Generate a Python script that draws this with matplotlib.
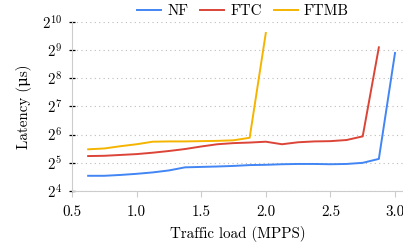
import matplotlib
matplotlib.use("Agg")
import matplotlib.pyplot as plt

# Traffic load (MPPS)
load_nf = [0.625, 0.75, 0.875, 1.0, 1.125, 1.25, 1.375, 1.5, 1.625, 1.75,
           1.875, 2.0, 2.125, 2.25, 2.375, 2.5, 2.625, 2.75, 2.875, 3.0]
load_ftc = load_nf[:-1]
load_ftmb = load_nf[:12]

# Latency, log2(us)
log_nf = [4.54, 4.54, 4.57, 4.61, 4.66, 4.73, 4.84, 4.855, 4.87, 4.89,
          4.92, 4.93, 4.95, 4.96, 4.96, 4.95, 4.96, 5.0, 5.14, 8.9]
log_ftc = [5.24, 5.25, 5.28, 5.31, 5.36, 5.42, 5.49, 5.58, 5.66, 5.70,
           5.72, 5.75, 5.66, 5.73, 5.76, 5.77, 5.81, 5.94, 9.1]
log_ftmb = [5.48, 5.51, 5.59, 5.66, 5.75, 5.76, 5.76, 5.77, 5.78, 5.80,
            5.89, 9.61]

y_exponents = [4, 5, 6, 7, 8, 9, 10]
x_ticks = [0.5, 1.0, 1.5, 2.0, 2.5, 3.0]

plt.rcParams['font.family'] = ['cmr10', 'DejaVu Serif']
plt.rcParams['mathtext.fontset'] = 'cm'
plt.rcParams['axes.formatter.use_mathtext'] = True
plt.rcParams['font.size'] = 10.8

fig = plt.figure(figsize=(4.03, 2.5), dpi=100)
ax = fig.add_axes([72 / 403, 59 / 250, 331 / 403, 169 / 250])

series = [
    ("NF", load_nf, log_nf, "#4285f4"),
    ("FTC", load_ftc, log_ftc, "#db4437"),
    ("FTMB", load_ftmb, log_ftmb, "#f4b400"),
]
for name, xs, ls, color in series:
    ax.plot(xs, [2 ** v for v in ls], color=color, lw=1.4, label=name)

ax.set_yscale('log', base=2)
ax.set_ylim(2 ** 4, 2 ** 10)
ax.set_xlim(0.5, 0.5 + 331 / 129.2)
ax.set_yticks([2 ** e for e in y_exponents])
ax.set_yticklabels([rf"$2^{{{e}}}$" for e in y_exponents])
ax.minorticks_off()
ax.set_xticks(x_ticks)
ax.set_xticklabels([f"{t:.1f}" for t in x_ticks])

ax.grid(axis='y', linestyle=(0, (1, 3)), color='#bbbbbb', lw=0.8)
for side in ['top', 'right']:
    ax.spines[side].set_visible(False)
for side in ['left', 'bottom']:
    ax.spines[side].set_color('#cccccc')
ax.tick_params(axis='y', length=4, width=0.9, color='black', direction='inout', pad=5)
ax.tick_params(axis='x', length=4, width=0.8, color='#cccccc', pad=6)

ax.set_xlabel("Traffic load (MPPS)", labelpad=5)
ax.set_ylabel("Latency (μs)", labelpad=7)

fig.legend(loc='upper center', bbox_to_anchor=(243 / 403, 1.035), ncol=3,
           frameon=False, handlelength=1.6, columnspacing=0.8, handletextpad=0.4)

fig.savefig("out.png", dpi=100)
